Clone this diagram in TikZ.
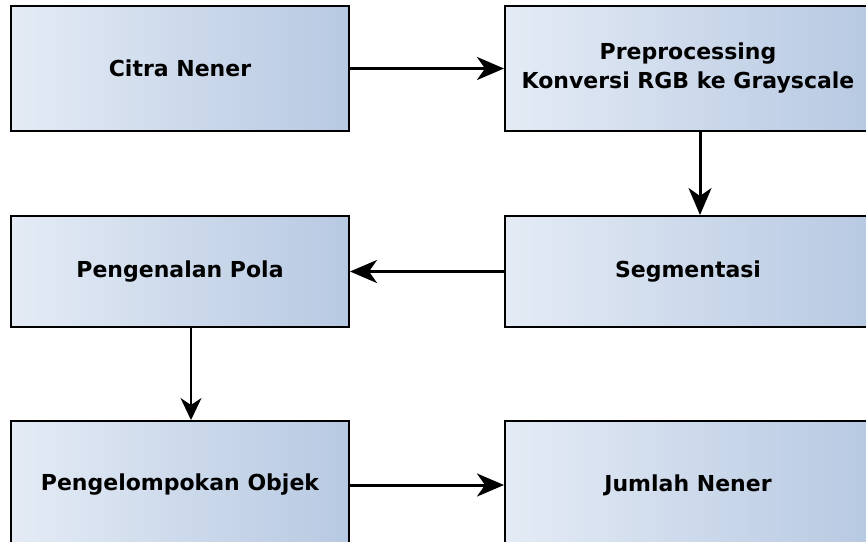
\documentclass[tikz,border=0pt]{standalone}
\usepackage{fontspec}
\setmainfont{DejaVu Sans}
\definecolor{BoxLight}{HTML}{E4EBF5}
\definecolor{BoxDark}{HTML}{B7C9E2}
\definecolor{LineBlack}{HTML}{000000}
\usetikzlibrary{arrows.meta, positioning}
\tikzset{
    % Flow box style
    flowbox/.style={
        rectangle,
        draw=LineBlack,
        line width=2pt,
        left color=BoxLight,
        right color=BoxDark,
        minimum width=338pt,
        minimum height=125pt,
        align=center,
        inner sep=0pt,
        font=\fontsize{22}{29}\selectfont\bfseries
    },
    % Wider box on the right
    widebox/.style={
        flowbox,
        minimum width=366pt
    },
    % Arrow style
    arrow/.style={
        -{Stealth[length=27pt, width=23pt, inset=8pt]},
        line width=3pt,
        color=LineBlack
    },
    % Thin arrow
    thinarrow/.style={
        arrow,
        -{Stealth[length=22pt, width=21pt, inset=7pt]},
        line width=2pt
    }
}
\begin{document}
\begin{tikzpicture}[x=1pt, y=-1pt]
        \clip (0,0) rectangle (866,541);

        % Row 1
        \node (citra) [flowbox] at (180,68.5) {Citra Nener};
        \node (prep) [widebox, right=154pt of citra] {Preprocessing\\Konversi RGB ke Grayscale};

        % Row 2
        \node (pola) [flowbox, below=83pt of citra, minimum height=111pt] {Pengenalan Pola};
        \node (seg) [widebox, right=154pt of pola, minimum height=111pt] {Segmentasi};

        % Row 3
        \node (objek) [flowbox, below=92pt of pola, minimum height=128pt] {Pengelompokan Objek};
        \node (jumlah) [widebox, right=154pt of objek, minimum height=128pt] {Jumlah Nener};

        % Arrows
        \draw [arrow] (citra) -- (prep);
        \draw [arrow] ([xshift=12pt]prep.south) -- ([xshift=12pt]seg.north);
        \draw [arrow] (seg) -- (pola);
        \draw [thinarrow] ([xshift=11pt]pola.south) -- ([xshift=11pt]objek.north);
        \draw [arrow] (objek) -- (jumlah);
    \end{tikzpicture}
\end{document}
